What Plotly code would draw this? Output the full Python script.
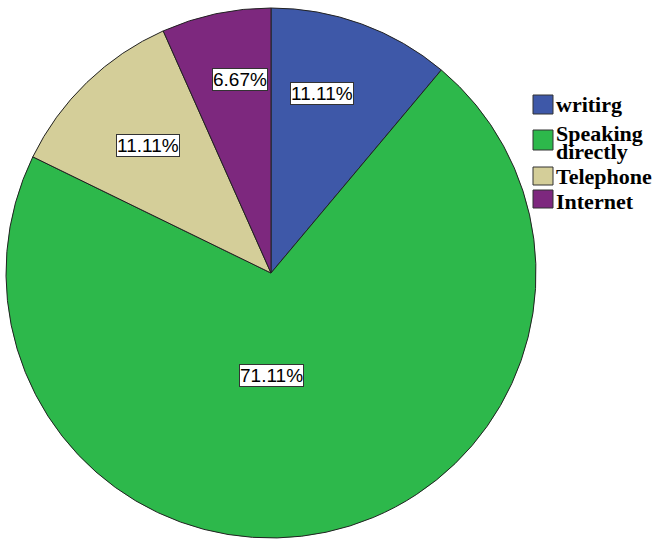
import math
import plotly.graph_objects as go

# ---- data ----
categories = ["writirg", "Speaking directly", "Telephone", "Internet"]
counts = [5, 32, 5, 3]
colors = ["#3E58A8", "#2DB84B", "#D4CE99", "#7D287E"]

W, H = 656, 540
# pie geometry (pixels)
cx, cy, R = 271, 273, 265

fig = go.Figure()
fig.add_trace(go.Pie(
    labels=categories,
    values=counts,
    sort=False,
    direction="clockwise",
    rotation=0,
    marker=dict(colors=colors, line=dict(color="#222222", width=1)),
    textinfo="none",
    hoverinfo="label+percent",
    showlegend=False,
    domain=dict(x=[(cx - R) / W, (cx + R) / W],
                y=[1 - (cy + R) / H, 1 - (cy - R) / H]),
))

# percentage labels in boxes, placed from slice angles
total = sum(counts)
ang_offset = [-4, 12, 0, 3]      # degrees (layout tuning)
rad_frac = [0.705, 0.385, 0.67, 0.74]
start = 0.0
for i, v in enumerate(counts):
    frac = v / total
    mid = start + frac * 360 / 2 + ang_offset[i]
    start += frac * 360
    r = rad_frac[i] * R
    px = cx + r * math.sin(math.radians(mid))
    py = cy - r * math.cos(math.radians(mid))
    fig.add_annotation(
        x=px / W, y=1 - py / H, xref="paper", yref="paper",
        text=f"{frac * 100:.2f}%", showarrow=False,
        font=dict(family="Liberation Sans, Arial", size=19, color="black"),
        bgcolor="white", bordercolor="#333333", borderwidth=1, borderpad=0,
        xanchor="center", yanchor="middle",
    )

# manual legend
sw_top = [95, 130, 167, 190]
sw_h = [19, 20, 18, 18]
txt_rows = [[("writirg", 105)], [("Speaking", 134), ("directly", 152)],
            [("Telephone", 177)], [("Internet", 201)]]
for i in range(len(categories)):
    fig.add_shape(type="rect", xref="paper", yref="paper",
                  x0=533 / W, x1=553 / W,
                  y0=1 - (sw_top[i] + sw_h[i]) / H, y1=1 - sw_top[i] / H,
                  fillcolor=colors[i], line=dict(color="#333333", width=1))
    for t, ty in txt_rows[i]:
        fig.add_annotation(x=554 / W, y=1 - ty / H, xref="paper", yref="paper",
                           text=f"<b>{t}</b>", showarrow=False,
                           xanchor="left", yanchor="middle",
                           font=dict(family="Liberation Serif, Times New Roman",
                                     size=22, color="black"))

fig.update_layout(
    width=W, height=H,
    margin=dict(l=0, r=0, t=0, b=0),
    paper_bgcolor="white", plot_bgcolor="white",
    showlegend=False,
)
fig.write_html("out.html", config={"displayModeBar": False},
               post_script="document.body.style.margin='0';document.body.style.overflow='hidden';")
